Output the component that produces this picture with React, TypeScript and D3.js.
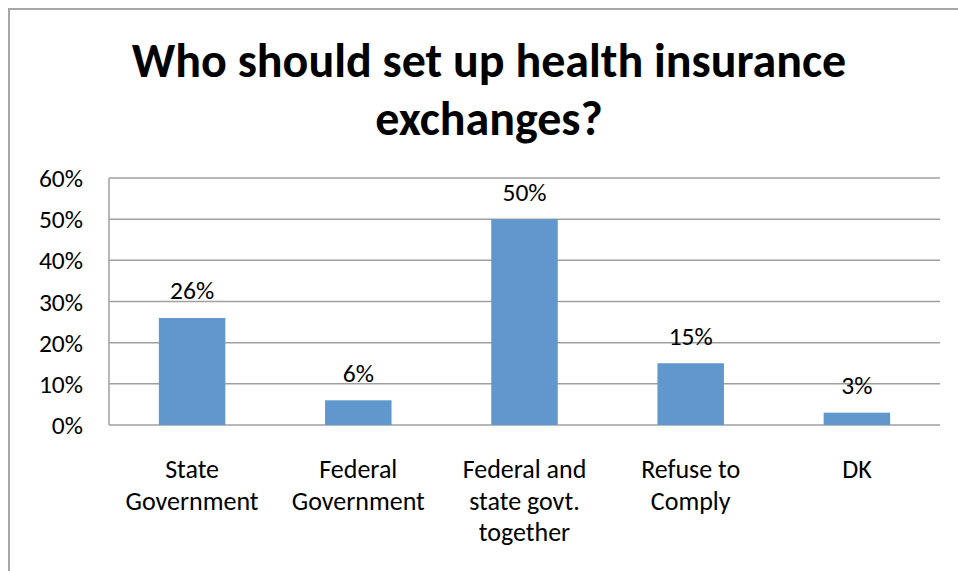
import React from "react";
import * as d3 from "d3";

const categories: string[][] = [
  ["State", "Government"],
  ["Federal", "Government"],
  ["Federal and", "state govt.", "together"],
  ["Refuse to", "Comply"],
  ["DK"],
];
const values: number[] = [26, 6, 50, 15, 3];
const yTicks: number[] = [0, 10, 20, 30, 40, 50, 60];
const titleLines: string[] = ["Who should set up health insurance", "exchanges?"];

const W = 958;
const H = 571;
const FONT = "Carlito, Calibri, Lato, 'Open Sans', sans-serif";

export default function App() {
  const left = 109;
  const right = 940;
  const top = 178;
  const bottom = 425;
  const x = d3
    .scaleBand<number>()
    .domain(values.map((_, i) => i))
    .range([left, right])
    .paddingInner(0.6)
    .paddingOuter(0.3);
  const y = d3.scaleLinear().domain([0, 60]).range([bottom, top]);
  const fmt = (v: number) => `${v}%`;

  return (
    <svg
      width={W}
      height={H}
      style={{ position: "absolute", left: 0, top: 0, display: "block", background: "#fff" }}
      fontFamily={FONT}
    >
      <rect x={9} y={9} width={W + 10} height={H + 10} fill="#fff" stroke="#a6a6a6" strokeWidth={2} />
      {titleLines.map((t, i) => (
        <text
          key={t}
          x={489}
          y={77 + i * 58}
          textAnchor="middle"
          fontSize={48}
          fontWeight="bold"
          fill="#000"
        >
          {t}
        </text>
      ))}
      {yTicks.map((t) => (
        <g key={t}>
          <line x1={left} x2={right} y1={y(t)} y2={y(t)} stroke="#a0a0a0" strokeWidth={1.5} />
          <text x={83} y={y(t) + 9} textAnchor="end" fontSize={25.5} fill="#000">
            {fmt(t)}
          </text>
        </g>
      ))}
      <line x1={left} x2={left} y1={top} y2={bottom} stroke="#a0a0a0" strokeWidth={1.5} />
      {values.map((v, i) => (
        <g key={i}>
          <rect
            x={x(i)!}
            y={y(v)}
            width={x.bandwidth()}
            height={y(0) - y(v)}
            fill="#6097cc"
          />
          <text
            x={x(i)! + x.bandwidth() / 2}
            y={y(v) - 18.5}
            textAnchor="middle"
            fontSize={25.5}
            fill="#000"
          >
            {fmt(v)}
          </text>
          {categories[i].map((line, j) => (
            <text
              key={j}
              x={x(i)! + x.bandwidth() / 2}
              y={478 + j * 31.6}
              textAnchor="middle"
              fontSize={26}
              fill="#000"
            >
              {line}
            </text>
          ))}
        </g>
      ))}
    </svg>
  );
}
